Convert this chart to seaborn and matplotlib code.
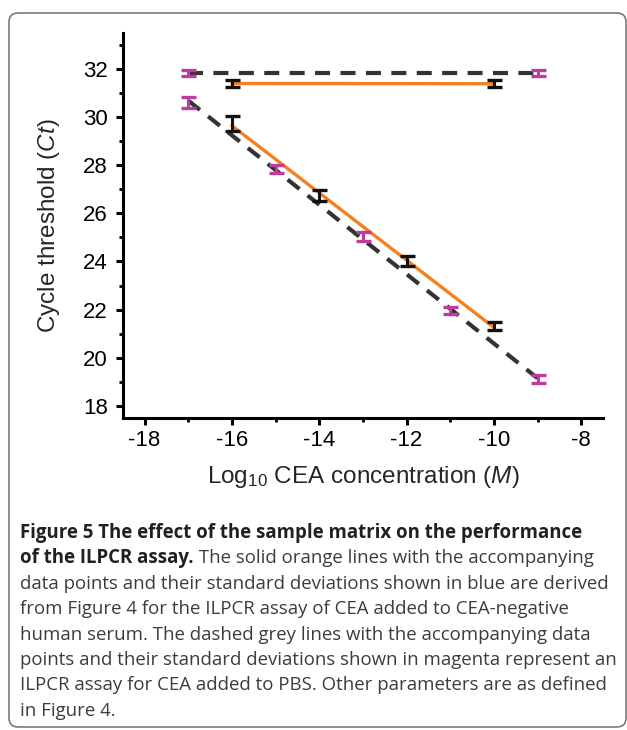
import matplotlib
matplotlib.use("Agg")
import matplotlib.pyplot as plt
import seaborn as sns
import numpy as np
from matplotlib.patches import FancyBboxPatch
from matplotlib.transforms import IdentityTransform
from matplotlib.ticker import MultipleLocator

# ---------------- data ----------------
pbs_x_low = [-17, -15, -13, -11, -9]
pbs_y_low = [30.60, 27.85, 25.04, 21.97, 19.13]
pbs_sd_low = [0.23, 0.17, 0.18, 0.16, 0.16]
pbs_x_high = [-17, -9]
pbs_y_high = [31.83, 31.83]
pbs_sd_high = [0.12, 0.12]

serum_x_low = [-16, -14, -12, -10]
serum_y_low = [29.72, 26.75, 24.02, 21.32]
serum_sd_low = [0.31, 0.23, 0.22, 0.16]
serum_x_high = [-16, -10]
serum_y_high = [31.39, 31.38]
serum_sd_high = [0.14, 0.14]

x_ticks = [-18, -16, -14, -12, -10, -8]
y_ticks = [18, 20, 22, 24, 26, 28, 30, 32]

caption_lines = [
    ("Figure 5 The effect of the sample matrix on the performance", ""),
    ("of the ILPCR assay.", " The solid orange lines with the accompanying"),
    ("", "data points and their standard deviations shown in blue are derived"),
    ("", "from Figure 4 for the ILPCR assay of CEA added to CEA-negative"),
    ("", "human serum. The dashed grey lines with the accompanying data"),
    ("", "points and their standard deviations shown in magenta represent an"),
    ("", "ILPCR assay for CEA added to PBS. Other parameters are as defined"),
    ("", "in Figure 4."),
]

# ---------------- style ----------------
sns.set_style("ticks")
plt.rcParams["font.family"] = ["Liberation Sans", "DejaVu Sans"]
plt.rcParams["mathtext.fontset"] = "custom"
plt.rcParams["mathtext.rm"] = "Liberation Sans"
plt.rcParams["mathtext.it"] = "Liberation Sans:italic"

W, H = 627, 730
fig = plt.figure(figsize=(W / 100, H / 100), dpi=100)
fig.patch.set_facecolor("white")

ax_l, ax_r, ax_t, ax_b = 122.7, 603.0, 32.7, 418.0
ax = fig.add_axes([ax_l / W, 1 - ax_b / H, (ax_r - ax_l) / W, (ax_b - ax_t) / H])

ORANGE = "#F5801F"
DASH = "#333333"
MAGENTA = "#BE3C9F"
BLACK = "#111111"

dash_style = (0, (3.6, 2.5))
for xs, ys in [(pbs_x_high, pbs_y_high), (pbs_x_low, pbs_y_low)]:
    sns.regplot(x=np.array(xs, float), y=np.array(ys, float), ax=ax, scatter=False,
                ci=None, truncate=True, color=DASH,
                line_kws=dict(lw=3.0, ls=dash_style, zorder=2))
for xs, ys in [(serum_x_high, serum_y_high), (serum_x_low, serum_y_low)]:
    sns.regplot(x=np.array(xs, float), y=np.array(ys, float), ax=ax, scatter=False,
                ci=None, truncate=True, color=ORANGE,
                line_kws=dict(lw=2.4, ls="-", zorder=3))

for xs, ys, sd, c in [
    (pbs_x_high, pbs_y_high, pbs_sd_high, MAGENTA),
    (pbs_x_low, pbs_y_low, pbs_sd_low, MAGENTA),
    (serum_x_high, serum_y_high, serum_sd_high, BLACK),
    (serum_x_low, serum_y_low, serum_sd_low, BLACK),
]:
    ax.errorbar(xs, ys, yerr=sd, fmt="none", ecolor=c, elinewidth=2.2,
                capsize=5.4, capthick=2.4, zorder=4)

ax.set_xlim(-18.5, -7.5)
ax.set_ylim(17.5, 33.5)
ax.set_xticks(x_ticks)
ax.set_xticklabels([str(v) for v in x_ticks])
ax.set_yticks(y_ticks)
ax.set_yticklabels([str(v) for v in y_ticks])
ax.xaxis.set_minor_locator(MultipleLocator(1))
ax.yaxis.set_minor_locator(MultipleLocator(1))
sns.despine(ax=ax)
for s in ["left", "bottom"]:
    ax.spines[s].set_linewidth(2.2)
    ax.spines[s].set_color("black")
ax.tick_params(which="major", direction="out", length=5, width=2.2,
               labelsize=16, colors="black", pad=4)
ax.tick_params(which="minor", direction="out", length=3, width=2.0, colors="black")
ax.tick_params(axis="y", which="major", pad=5.5)
ax.set_xlabel(r"Log$_{10}$ CEA concentration ($\mathit{M}$)", fontsize=17.5, labelpad=9)
ax.set_ylabel(r"Cycle threshold ($\mathit{Ct}$)", fontsize=17.5, labelpad=15)
ax.patch.set_alpha(0)

# ---------------- frame ----------------
box = FancyBboxPatch((9, H - 727), 626 - 9, 727 - 13,
                     boxstyle="round,pad=0,rounding_size=9",
                     transform=IdentityTransform(), fill=False,
                     edgecolor="#707070", lw=1.1, zorder=0)
fig.patches.append(box)

# ---------------- caption ----------------
cap_font = ["Open Sans", "DejaVu Sans"]
cap_size = 13.45
renderer = fig.canvas.get_renderer()
base0 = 538.0
step = 25.4
for i, (bold, reg) in enumerate(caption_lines):
    yb = 1 - (base0 + i * step) / H
    x0 = 20.0
    if bold:
        t = fig.text(x0 / W, yb, bold, family=cap_font, weight="bold", size=cap_size,
                     color="#231F20", va="baseline", ha="left")
        x0 = t.get_window_extent(renderer).x1
    if reg:
        fig.text(x0 / W, yb, reg, family=cap_font, size=cap_size,
                 color="#3C3C3C", va="baseline", ha="left")

fig.savefig("out.png", dpi=100, facecolor="white")
